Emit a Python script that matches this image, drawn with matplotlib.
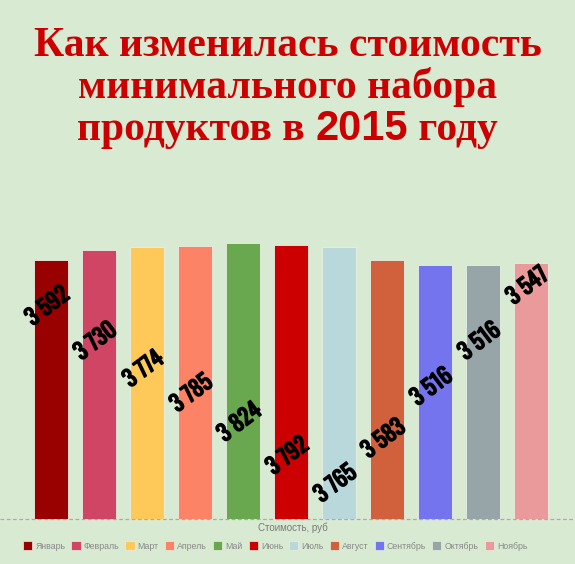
import numpy as np
import matplotlib
matplotlib.use("Agg")
import matplotlib.pyplot as plt
import matplotlib.patheffects as pe
from matplotlib.patches import Patch

# data
months = ["Январь", "Февраль", "Март", "Апрель", "Май", "Июнь",
          "Июль", "Август", "Сентябрь", "Октябрь", "Ноябрь"]
prices = [3592, 3730, 3774, 3785, 3824, 3792, 3765, 3583, 3516, 3516, 3547]
labels = ["3 592", "3 730", "3 774", "3 785", "3 824", "3 792",
          "3 765", "3 583", "3 516", "3 516", "3 547"]
colors = ["#990000", "#d04563", "#ffc95a", "#fd8366", "#69a84f", "#cc0000",
          "#b9d8dc", "#d1603d", "#7474ee", "#97a4a8", "#ea9a9a"]
# where the value label sits, as share of the bar height
label_pos = [0.82, 0.66, 0.55, 0.46, 0.35, 0.23, 0.13, 0.31, 0.52, 0.70, 0.91]

bg = "#d9ead3"
W, H = 575, 564

fig = plt.figure(figsize=(W / 100, H / 100), dpi=100, facecolor=bg)

# axes over the full width; bar pitch 48 px, first bar centre at 50.5 px
pitch = 48.0
x0 = -50.5 / pitch
ax = fig.add_axes([0, 1 - 519 / H, 1, 296 / H])
ax.set_facecolor(bg)
ax.set_xlim(x0, x0 + W / pitch)
ax.set_ylim(0, 296 / 0.0722)
x = np.arange(len(months))
ax.bar(x, prices, width=34 / pitch, color=colors, edgecolor="#e8efe4",
       linewidth=0.6, zorder=2)
ax.axhline(0, color="#aaaaaa", lw=0.9, ls=(0, (3, 2)), clip_on=False, zorder=1)

# value labels: tall condensed face, thickened with a stroke
for xi, p, lab, f in zip(x, prices, labels, label_pos):
    ax.text(xi - 0.06, p * f, lab, rotation=37, ha="center", va="center",
            fontsize=16, fontweight="bold",
            family=["Oswald", "Barlow Condensed", "DejaVu Sans"], color="black",
            zorder=3, rotation_mode="anchor",
            path_effects=[pe.withStroke(linewidth=1.1, foreground="black")])

for s in ax.spines.values():
    s.set_visible(False)
ax.set_xticks([])
ax.set_yticks([])

# title, three lines; the year is set in a sans face
red = "#cc0000"
tsize = 30
tkw = dict(color=red, fontsize=tsize, fontweight="bold", ha="center", va="baseline")
fig.text(0.5, 1 - 56 / H, "Как изменилась стоимость", family="Liberation Serif", **tkw)
fig.text(0.5, 1 - 98 / H, "минимального набора", family="Liberation Serif", **tkw)

y3 = 1 - 140 / H
parts = [("продуктов в ", "Liberation Serif"), ("2015", "Liberation Sans"),
         (" году", "Liberation Serif")]
texts = []
for s, fam in parts:
    t = fig.text(0, y3, s, family=fam, color=red, fontsize=tsize,
                 fontweight="bold", ha="left", va="baseline")
    texts.append(t)
fig.canvas.draw()
r = fig.canvas.get_renderer()
widths = [t.get_window_extent(r).width for t in texts]
xs = (W - sum(widths)) / 2
for t, w in zip(texts, widths):
    t.set_x(xs / W)
    xs += w

fig.text(293 / W, 1 - 528 / H, "Стоимость, руб", family="Liberation Sans",
         fontsize=7, color="#777777", ha="center", va="center")

handles = [Patch(facecolor=c, edgecolor="#e8efe4", lw=0.5) for c in colors]
leg = fig.legend(handles, months, loc="center left", ncol=len(months),
                 bbox_to_anchor=(23 / W, 1 - 546 / H), frameon=False,
                 prop={"family": "Liberation Sans", "size": 6.3},
                 handlelength=1.05, handleheight=1.05, handletextpad=0.35,
                 columnspacing=0.7, borderpad=0, borderaxespad=0)
for t in leg.get_texts():
    t.set_color("#888888")

fig.savefig("out.png", dpi=100, facecolor=bg)
